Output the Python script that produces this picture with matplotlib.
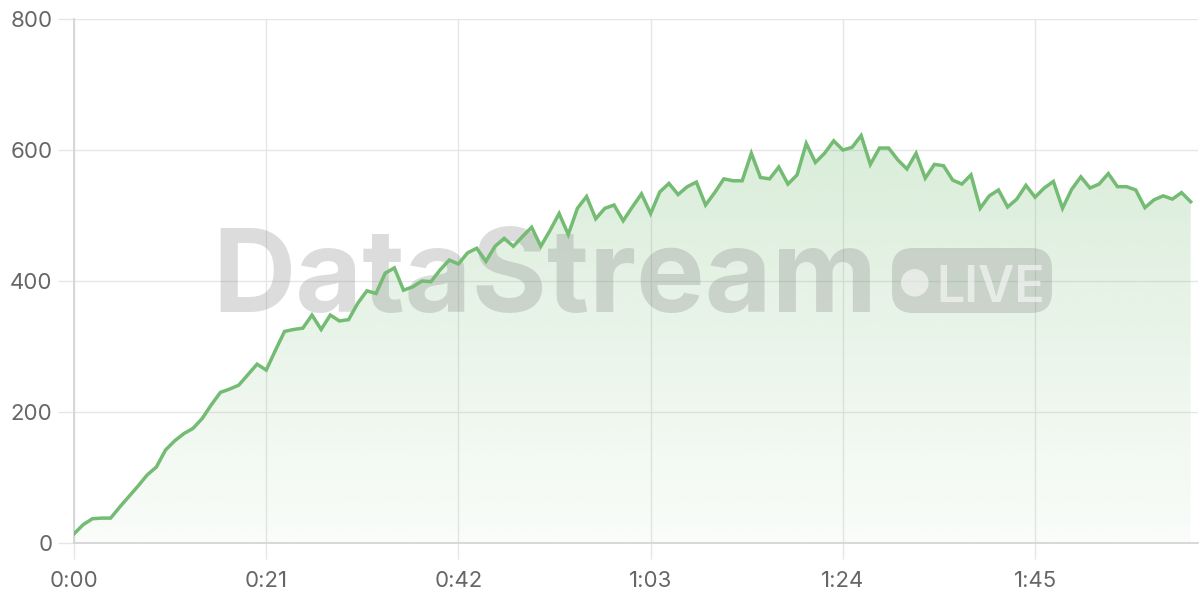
import matplotlib
matplotlib.use("Agg")
import matplotlib.pyplot as plt
import numpy as np
from matplotlib.patches import FancyBboxPatch
from matplotlib.colors import to_rgb
from matplotlib.transforms import IdentityTransform

# ---- data ----
seconds = list(range(0, 123))
values = [
    14, 28, 37, 38, 38, 55, 71, 87, 104, 116,
    142, 156, 167, 175, 190, 211, 230, 235, 241, 257,
    273, 264, 294, 323, 326, 328, 348, 326, 348, 339,
    341, 366, 385, 381, 412, 420, 386, 391, 400, 399,
    417, 432, 426, 443, 450, 430, 453, 465, 453, 468,
    482, 453, 477, 503, 471, 511, 529, 495, 511, 516,
    492, 513, 533, 503, 536, 549, 532, 544, 551, 516,
    535, 556, 553, 553, 595, 558, 556, 574, 548, 562,
    610, 581, 595, 614, 600, 604, 622, 578, 603, 603,
    585, 571, 595, 557, 578, 576, 554, 548, 562, 511,
    530, 539, 513, 525, 546, 528, 542, 552, 511, 540,
    559, 542, 548, 564, 544, 544, 539, 512, 524, 530,
    525, 535, 521,
]
x_ticks = [0, 21, 42, 63, 84, 105]
x_tick_labels = ["0:00", "0:21", "0:42", "1:03", "1:24", "1:45"]
y_ticks = [0, 200, 400, 600, 800]

line_color = "#74bb74"
grid_color = "#e6e6e6"
label_color = "#666666"
W, H = 1200, 600

plt.rcParams["font.family"] = ["Inter", "DejaVu Sans"]

fig = plt.figure(figsize=(12, 6), dpi=100)
ax = fig.add_axes([74 / W, 1 - 543 / H, (1198 - 74) / W, (543 - 19) / H])

x = np.array(seconds, dtype=float)
y = np.array(values, dtype=float)

ax.set_xlim(0, 122.8)
ax.set_ylim(0, 800)

# gradient fill under the line
poly = ax.fill_between(x, y, 0, color="none", lw=0, zorder=1)
ny = 256
alphas = np.linspace(0.04, 0.28, ny)[:, None]
rgb = to_rgb(line_color)
img = np.zeros((ny, 2, 4))
img[..., 0] = rgb[0]
img[..., 1] = rgb[1]
img[..., 2] = rgb[2]
img[..., 3] = alphas * np.ones((ny, 2))
im = ax.imshow(img, extent=[0, x[-1], 0, 650], origin="lower", aspect="auto",
               zorder=1, interpolation="bilinear")
im.set_clip_path(poly.get_paths()[0], transform=ax.transData)

ax.plot(x, y, color=line_color, lw=2.5, zorder=5, solid_joinstyle="miter")

# axes styling
ax.set_xticks(x_ticks)
ax.set_xticklabels(x_tick_labels)
ax.set_yticks(y_ticks)
ax.grid(True, color=grid_color, lw=1.0, zorder=0)
ax.set_axisbelow(True)
for s in ["top", "right"]:
    ax.spines[s].set_visible(False)
for s in ["left", "bottom"]:
    ax.spines[s].set_color("#d2d2d2")
    ax.spines[s].set_linewidth(1.2)
ax.tick_params(axis="both", colors=grid_color, length=11.5, width=1.0,
               labelcolor=label_color, labelsize=16)
ax.tick_params(axis="y", pad=4)
ax.tick_params(axis="x", pad=9)
ax.set_facecolor("white")

# watermark (pixel coordinates, y from top)
def px(xp, yp_top):
    return xp, H - yp_top

wm_color = "#808080"
wm_alpha = 0.27
tx, ty = px(212, 312)
ax.text(tx, ty, "DataStream", transform=IdentityTransform(), fontsize=83,
        fontweight="bold", color=wm_color, alpha=wm_alpha, ha="left",
        va="baseline", zorder=3, clip_on=False)
bx, by = px(892, 313)
pill = FancyBboxPatch((bx, by), 1052 - 892, 313 - 248,
                      boxstyle="round,pad=0,rounding_size=21",
                      transform=IdentityTransform(), facecolor=wm_color,
                      alpha=wm_alpha, edgecolor="none", zorder=3, clip_on=False)
ax.add_patch(pill)
dx, dy = px(915, 281)
ax.text(dx, dy, "\u25cf", transform=IdentityTransform(), fontsize=26,
        color="white", alpha=0.55, ha="center", va="center", zorder=4,
        family=["DejaVu Sans"], clip_on=False)
lx, ly = px(936, 302)
ax.text(lx, ly, "LIVE", transform=IdentityTransform(), fontsize=36,
        color="white", alpha=0.55, ha="left", va="baseline", zorder=4,
        fontweight="semibold", clip_on=False)

fig.savefig("out.png", dpi=100, facecolor="white")
